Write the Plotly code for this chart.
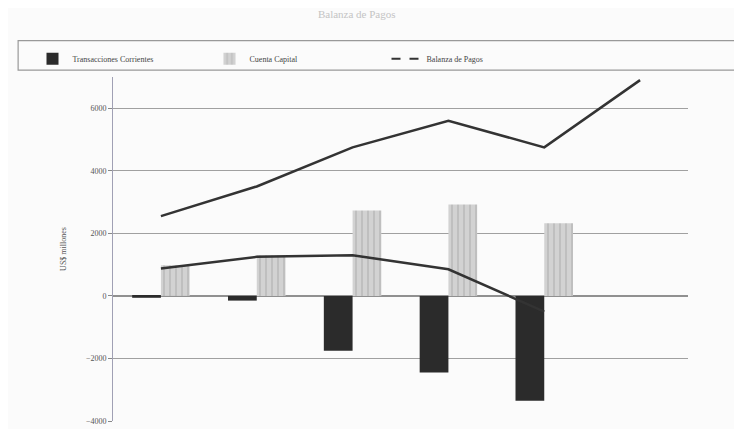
import plotly.graph_objects as go

# Years on the x axis.
years = ['93', '94', '95', '96', '97', '98']

# Values in US$ millones.
transacciones = [-60, -150, -1750, -2450, -3350, None]
cuenta_capital = [980, 1300, 2730, 2920, 2320, None]
balanza_pagos = [880, 1250, 1300, 850, -500, None]
reservas = [2550, 3500, 4750, 5600, 4750, 6900]

# Tick values for the y axis.
y_ticks = [-4000, -2000, 0, 2000, 4000, 6000]

fig = go.Figure()

# Current account bars (dark).
fig.add_trace(go.Bar(x=years, y=transacciones, name='Transacciones Corrientes',
                     marker=dict(color='#2b2b2b', line=dict(width=0))))

# Capital account bars (light grey with stripes).
fig.add_trace(go.Bar(x=years, y=cuenta_capital, name='Cuenta Capital',
                     marker=dict(color='#d2d2d2', line=dict(width=0),
                                 pattern=dict(shape='|', fgcolor='#a8a8a8', size=6, solidity=0.3))))

# Balance of payments line.
fig.add_trace(go.Scatter(x=years, y=balanza_pagos, mode='lines', name='Balanza de Pagos',
                         line=dict(color='#333333', width=2.5), showlegend=False))

# Legend entry drawn dashed like the original.
fig.add_trace(go.Scatter(x=[None], y=[None], mode='lines', name='Balanza de Pagos',
                         line=dict(color='#333333', width=2, dash='dash')))

# Upper line (not in legend).
fig.add_trace(go.Scatter(x=years, y=reservas, mode='lines', name='Reservas',
                         line=dict(color='#333333', width=2.5), showlegend=False))

# Year labels sitting just under the zero line.
for yr in years:
    fig.add_annotation(x=yr, y=0, text=yr, showarrow=False, yanchor='top', yshift=-8,
                       font=dict(size=8, color='#555555'))

# Legend frame, wider than the legend itself.
fig.add_shape(type='rect', xref='paper', yref='paper', x0=-0.165, x1=1.11, y0=1.02, y1=1.106,
              line=dict(color='#999999', width=1.2))

fig.update_layout(
    width=742, height=429,
    margin=dict(l=105, r=62, t=69, b=11),
    paper_bgcolor='#fbfbfb', plot_bgcolor='#fbfbfb',
    barmode='group', bargap=0.4, bargroupgap=0,
    font=dict(family='Liberation Serif', size=8, color='#444444'),
    title=dict(text='Balanza de Pagos', x=0.47, y=0.995, yanchor='top',
               font=dict(size=11, color='#c4c4c4')),
    legend=dict(orientation='h', x=-0.14, y=1.095, xanchor='left', yanchor='top',
                entrywidth=132, borderwidth=0, bgcolor='rgba(0,0,0,0)',
                font=dict(size=8, color='#444444')),
    xaxis=dict(showticklabels=False, showgrid=False, zeroline=False,
               range=[-0.5, 5.5], fixedrange=True),
    yaxis=dict(range=[-4000, 7000], tickvals=y_ticks, showgrid=True, gridcolor='#a0a0a0',
               zeroline=True, zerolinecolor='#909090', zerolinewidth=1.5,
               showline=True, linecolor='#a0a0b4', linewidth=1,
               ticks='outside', ticklen=4, tickcolor='#888888',
               tickfont=dict(size=8, color='#555555'),
               title=dict(text='US$ millones', font=dict(size=8, color='#555555'), standoff=18),
               fixedrange=True),
)

fig.write_html("out.html")
